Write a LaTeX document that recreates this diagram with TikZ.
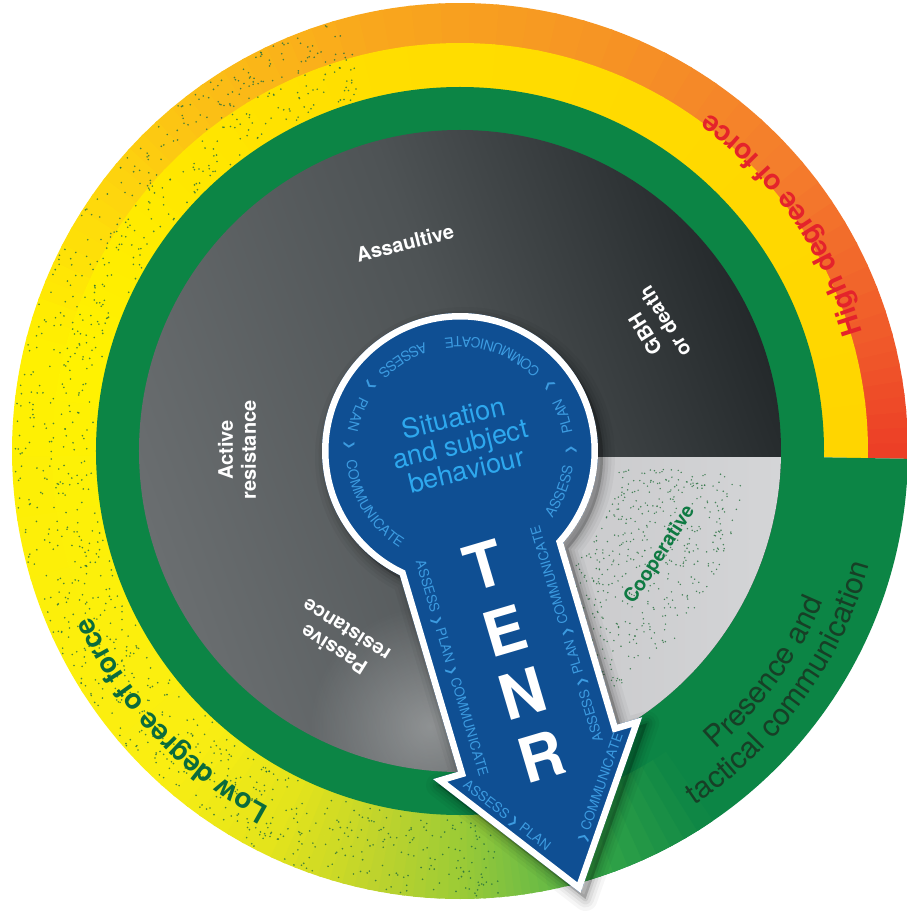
\documentclass[tikz,border=0pt]{standalone}
\usepackage{fontspec}
\newfontfamily\hv{TeX Gyre Heros}
\newfontfamily\dv{DejaVu Sans}
\usetikzlibrary{decorations.text,fadings}

% palette
\definecolor{ringgreen}{HTML}{0C8545}
\definecolor{lightgreen}{HTML}{3FAE48}
\definecolor{discdark}{HTML}{24292B}
\definecolor{discmid}{HTML}{4E5355}
\definecolor{disclight}{HTML}{6A6E70}
\definecolor{coopA}{HTML}{C6C6C8}
\definecolor{coopB}{HTML}{E8E8EA}
\definecolor{coopC}{HTML}{D4D5D7}
\definecolor{tenrblue}{HTML}{0F4F93}
\definecolor{ringtext}{HTML}{3C9BE0}
\definecolor{sittext}{HTML}{2EA8EE}
\definecolor{hightext}{HTML}{E4232B}
\definecolor{lowtext}{HTML}{0B6B3D}
\definecolor{prestext}{HTML}{173F26}
\definecolor{cooptext}{HTML}{0F7A43}
\definecolor{speck}{HTML}{256F3C}
% outer half of the force band
\definecolor{o0}{HTML}{EC3D26}
\definecolor{o1}{HTML}{F05A2A}
\definecolor{o2}{HTML}{F47C2C}
\definecolor{o3}{HTML}{F69424}
\definecolor{o4}{HTML}{F9A61D}
\definecolor{o5}{HTML}{FBBD16}
\definecolor{o6}{HTML}{FED80C}
\definecolor{o7}{HTML}{FFF000}
\definecolor{o8}{HTML}{FAEE12}
\definecolor{o9}{HTML}{E2E31C}
\definecolor{o10}{HTML}{C0D42C}
\definecolor{o11}{HTML}{9CCB36}
\definecolor{o12}{HTML}{78BF42}
\definecolor{o13}{HTML}{4FB249}
% inner half of the force band
\definecolor{i0}{HTML}{FFD500}
\definecolor{i1}{HTML}{FFDA00}
\definecolor{i2}{HTML}{FFDF00}
\definecolor{i3}{HTML}{FFE900}
\definecolor{i4}{HTML}{FFF200}
\definecolor{i5}{HTML}{FAEE12}

\pgfdeclarehorizontalshading{discshade}{100bp}{color(0bp)=(disclight); color(25bp)=(disclight); color(52bp)=(discmid); color(75bp)=(discdark); color(100bp)=(discdark)}
\tikzfading[name=softspot, inner color=transparent!0, outer color=transparent!100]

% outline of the keyhole arrow (local, rotated frame)
\newcommand\keyholeoutline{(73,-117.1) arc[start angle=-58.06, end angle=227.63, radius=138] -- (-93,-307) -- (-119,-307) -- (-10,-458) -- (99,-307) -- (73,-307) -- cycle}
% separator chevron used in the cycle text
\newcommand\chev{{\dv\fontsize{11}{11}\selectfont ❯}}

\tikzset{
  lbl/.style={text=white, font=\hv\bfseries\fontsize{20}{23}\selectfont, inner sep=0pt, align=center},
  tenr/.style={text=white, font=\hv\bfseries\fontsize{62}{62}\selectfont, inner sep=0pt, transform shape},
  speckdot/.style={fill=speck, opacity=0.8},
  cyctext/.style={decorate, decoration={text along path, text align=center, text={|\hv\fontsize{13.5}{13.5}\selectfont\color{ringtext}|#1}}},
  cycfit/.style={decorate, decoration={text along path, text align=fit to path stretching spaces, text={|\hv\fontsize{14}{14}\selectfont\color{ringtext}|#1}}},
}

\begin{document}
\begin{tikzpicture}[x=1pt,y=1pt]
\useasboundingbox (-460,-462) rectangle (447,451);
\fill[white] (-460,-462) rectangle (447,451);

% force band, outer half
\foreach \aa/\ab/\ca/\cb in {-1/15/o0/o1, 15/40/o1/o2, 40/70/o2/o3, 70/100/o3/o4, 100/125/o4/o5, 125/145/o5/o6, 145/165/o6/o7, 165/228/o7/o8, 228/245/o8/o9, 245/258/o9/o10, 258/270/o10/o11, 270/278/o11/o12, 278/287/o12/o13}{
  \foreach \k in {0,...,7}{
    \pgfmathsetmacro\s{\aa+(\ab-\aa)*\k/8}
    \pgfmathsetmacro\e{\aa+(\ab-\aa)*(\k+1)/8+0.4}
    \pgfmathsetmacro\p{100-100*(\k+0.5)/8}
    \fill[fill={\ca!\p!\cb}] (\s:448) arc[start angle=\s, end angle=\e, radius=448] -- (\e:407.5) arc[start angle=\e, end angle=\s, radius=407.5] -- cycle;
  }
}
% force band, inner half
\foreach \aa/\ab/\ca/\cb in {-1/60/i0/i1, 60/110/i1/i2, 110/140/i2/i3, 140/165/i3/i4, 165/228/i4/i5, 228/245/i5/o9, 245/258/o9/o10, 258/270/o10/o11, 270/278/o11/o12, 278/287/o12/o13}{
  \foreach \k in {0,...,7}{
    \pgfmathsetmacro\s{\aa+(\ab-\aa)*\k/8}
    \pgfmathsetmacro\e{\aa+(\ab-\aa)*(\k+1)/8+0.4}
    \pgfmathsetmacro\p{100-100*(\k+0.5)/8}
    \fill[fill={\ca!\p!\cb}] (\s:408) arc[start angle=\s, end angle=\e, radius=408] -- (\e:363) arc[start angle=\e, end angle=\s, radius=363] -- cycle;
  }
}

% presence sector
\fill[ringgreen] (-1:448) arc[start angle=-1, end angle=-76, radius=448] -- (-76:320) arc[start angle=-76, end angle=-1, radius=320] -- cycle;
\foreach \k in {0,...,9}{
  \pgfmathsetmacro\s{-76+2*\k}
  \pgfmathsetmacro\e{\s+2.4}
  \pgfmathsetmacro\p{100-10*(\k+0.5)}
  \fill[fill={lightgreen!\p!ringgreen}] (\s:448) arc[start angle=\s, end angle=\e, radius=448] -- (\e:364) arc[start angle=\e, end angle=\s, radius=364] -- cycle;
}

% green ring
\fill[ringgreen, even odd rule] (0,0) circle[radius=364] (0,0) circle[radius=320];

% speckle in the band
\pgfmathsetseed{42}
\foreach \i in {1,...,1000}{
  \pgfmathsetmacro\sa{105+170*rnd}
  \pgfmathsetmacro\sr{367+79*rnd}
  \fill[speckdot] (\sa:\sr) circle[radius=0.9];
}

% behaviour disc
\shade[shading=discshade, shading angle=20] (0,0) circle[radius=321];
\begin{scope}
  \clip (0,0) circle[radius=321];
  \fill[white, fill opacity=0.32, path fading=softspot] (-30,-275) circle[radius=120];
\end{scope}
\shade[left color=coopA, middle color=coopB, right color=coopC] (0,-6) -- (320.94,-6) arc[start angle=-1.07, end angle=-80, radius=321] -- cycle;
\foreach \i in {1,...,500}{
  \pgfmathsetmacro\sa{-5-55*rnd}
  \pgfmathsetmacro\sr{160+125*rnd}
  \fill[speckdot] (\sa:\sr) circle[radius=0.8];
}

% behaviour labels
\node[lbl, rotate=14] (assault) at (-55,208) {Assaultive};
\node[lbl, rotate=122] (gbh) at (195,123) {GBH\\or death};
\node[lbl, rotate=90] (active) at (-223,1) {Active\\resistance};
\node[lbl, rotate=148] (passive) at (-120,-189) {Passive\\resistance};
\node[text=cooptext, font=\hv\bfseries\fontsize{19.5}{22}\selectfont, inner sep=0pt, rotate=57] (coop) at (200,-104) {Cooperative};

% band captions
\path[decorate, decoration={text along path, text align=center, text={|\hv\bfseries\fontsize{28}{28}\selectfont\color{hightext}|High degree of force}}] (5:420) arc[start angle=5, end angle=65, radius=420];
\path[decorate, decoration={text along path, text align=center, text={|\hv\bfseries\fontsize{28}{28}\selectfont\color{lowtext}|Low degree of force}}] (258:404) arc[start angle=258, end angle=188, radius=404];
\path[decorate, decoration={text along path, text align=center, text={|\hv\fontsize{30}{30}\selectfont\color{prestext}|Presence and}}] (-75:393) arc[start angle=-75, end angle=3, radius=393];
\path[decorate, decoration={text along path, text align=center, text={|\hv\fontsize{30}{30}\selectfont\color{prestext}|tactical communication}}] (-76:425) arc[start angle=-76, end angle=4, radius=425];

% arrow shadow
\begin{scope}[shift={(5,-6)}, rotate=16.5]
  \foreach \w/\op in {24/0.035, 17/0.045, 11/0.06, 5/0.08}{
    \path[draw=black, fill=black, line width=\w, draw opacity=\op, fill opacity=\op, line join=round] \keyholeoutline;
  }
\end{scope}

% keyhole arrow
\begin{scope}[rotate=16.5]
  \begin{scope}
    \clip \keyholeoutline;
    \path[fill=tenrblue, draw=white, line width=13] \keyholeoutline;
  \end{scope}
  \node[tenr] (t) at (-9,-117) {T};
  \node[tenr] (e) at (-8,-185) {E};
  \node[tenr] (n) at (-9,-250) {N};
  \node[tenr] (r) at (-9,-316) {R};
  \node[text=sittext, font=\hv\fontsize{27}{27}\selectfont, inner sep=0pt, align=center, transform shape, rotate=-3] (sit) at (2,7) {Situation\\and subject\\behaviour};
  % cycle text along the shaft and the arrowhead
  \path[cyctext={ASSESS \chev{} PLAN \chev{} COMMUNICATE}] (-74,-94) -- (-74,-318);
  \path[cyctext={ASSESS \chev{} PLAN \chev{} COMMUNICATE}] (55,-322) -- (55,-90);
  \path[cyctext={ASSESS \chev{} PLAN}] (-103.4,-308.1) -- (-20.8,-422.6);
  \path[cyctext={\chev{} COMMUNICATE}] (0.8,-422.6) -- (83.4,-308.1);
\end{scope}
% cycle text round the head of the arrow
\path[cycfit={ASSESS \chev{} PLAN \chev{} COMMUNICATE}] (-36:114) arc[start angle=-36, end angle=98, radius=114];
\path[cycfit={ASSESS \chev{} PLAN \chev{} COMMUNICATE}] (108:114) arc[start angle=108, end angle=238, radius=114];
\end{tikzpicture}
\end{document}
